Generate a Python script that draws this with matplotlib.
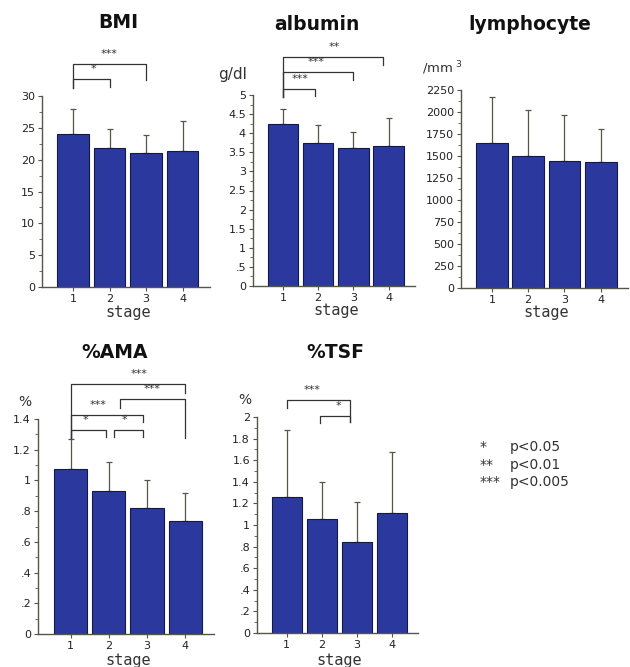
import matplotlib
matplotlib.use('Agg')
import matplotlib.pyplot as plt
import matplotlib.transforms as mtransforms
from matplotlib.ticker import FuncFormatter, MultipleLocator, AutoMinorLocator

# stages on the x axis
stages = [1, 2, 3, 4]

# mean values and upper SD for each panel
bmi_mean = [24.0, 21.8, 21.1, 21.4]
bmi_sd = [3.9, 3.0, 2.7, 4.7]
alb_mean = [4.24, 3.74, 3.60, 3.66]
alb_sd = [0.40, 0.47, 0.44, 0.73]
lym_mean = [1644, 1504, 1443, 1428]
lym_sd = [523, 519, 523, 382]
ama_mean = [1.075, 0.93, 0.82, 0.735]
ama_sd = [0.195, 0.19, 0.185, 0.185]
tsf_mean = [1.255, 1.055, 0.84, 1.11]
tsf_sd = [0.625, 0.345, 0.37, 0.57]

# significance brackets: (from, to, line height, left leg end, right leg end, stars, label x)
bmi_sig = [(1, 3, 1.168, 1.042, 1.084, '***', 2.0),
           (1, 2, 1.089, 1.042, 1.047, '*', 1.55)]
alb_sig = [(1, 3.85, 1.199, 0.99, 1.157, '**', 2.45),
           (1, 3, 1.120, 0.99, 1.079, '***', 1.95),
           (1, 1.9, 1.031, 0.99, 0.995, '***', 1.5)]
ama_sig = [(1, 4, 1.163, 0.912, 1.121, '***', 2.78),
           (2.3, 4, 1.093, 1.051, 0.912, '***', 3.12),
           (1, 2.9, 1.019, 0.912, 0.986, '***', 1.71),
           (1, 1.92, 0.949, 0.912, 0.916, '*', 1.4),
           (2.13, 2.9, 0.949, 0.916, 0.916, '*', 2.42)]
tsf_sig = [(1, 2.8, 1.079, 1.042, 0.977, '***', 1.73),
           (1.95, 2.8, 1.005, 0.972, 0.977, '*', 2.47)]

W, H = 630, 667
fig = plt.figure(figsize=(W / 100, H / 100), dpi=100)

bar_col = '#2b399f'
line_col = '#55554a'


def rect(l, t, w, h):
    return [l / W, 1 - (t + h) / H, w / W, h / H]


def fmt(v, pos):
    s = '%g' % round(v, 4)
    if s.startswith('0.'):
        s = s[1:]
    return s


def panel(r, means, sds, ymax, step, sig, stage_off):
    ax = fig.add_axes(rect(*r))
    ax.bar(stages, means, width=0.87, color=bar_col, edgecolor='#151a45', linewidth=0.8, zorder=2)
    ax.errorbar(stages, means, yerr=[[0] * 4, sds], fmt='none', ecolor=line_col,
                elinewidth=0.9, capsize=2, capthick=0.9, zorder=1)
    ax.set_xlim(0.15, 4.75)
    ax.set_ylim(0, ymax)
    ax.yaxis.set_major_locator(MultipleLocator(step))
    ax.yaxis.set_minor_locator(AutoMinorLocator(2))
    ax.yaxis.set_major_formatter(FuncFormatter(fmt))
    ax.set_xticks(stages)
    for s in ['top', 'right']:
        ax.spines[s].set_visible(False)
    for s in ['left', 'bottom']:
        ax.spines[s].set_color(line_col)
        ax.spines[s].set_linewidth(1.0)
    ax.tick_params(colors=line_col, width=0.8, length=3, labelcolor='#222222', labelsize=8, pad=2)
    ax.tick_params(which='minor', length=2, width=0.6, colors=line_col)
    ax.annotate('stage', xy=(2.5, 0), xycoords=('data', 'axes fraction'),
                xytext=(0, -stage_off * 0.72), textcoords='offset points',
                ha='center', va='center', fontsize=11, color='#333333',
                family=['DejaVu Sans Mono'])
    tr = mtransforms.blended_transform_factory(ax.transData, ax.transAxes)
    for x1, x2, y, l1, l2, lab, lx in sig:
        ax.plot([x1, x1, x2, x2], [l1, y, y, l2], color='#333333', lw=0.9,
                transform=tr, clip_on=False)
        ax.annotate(lab, xy=(lx, y), xycoords=tr, xytext=(0, 7), textcoords='offset points',
                    ha='center', va='center', fontsize=8, color='#333333')
    return ax


panel((42, 96, 168, 191), bmi_mean, bmi_sd, 30, 5, bmi_sig, 25)
panel((253, 95, 162, 191), alb_mean, alb_sd, 5, 0.5, alb_sig, 25)
panel((461, 90, 167, 198), lym_mean, lym_sd, 2250, 250, [], 25)
panel((38, 419, 176, 215), ama_mean, ama_sd, 1.4, 0.2, ama_sig, 27)
panel((257, 417, 161, 216), tsf_mean, tsf_sd, 2, 0.2, tsf_sig, 27)


def ftext(x, y, s, **kw):
    fig.text(x / W, 1 - y / H, s, ha='center', va='center', **kw)


# panel titles
for x, y, s in [(118, 22, 'BMI'), (317, 25, 'albumin'), (530, 25, 'lymphocyte'),
                (115, 352, '%AMA'), (335, 352, '%TSF')]:
    ftext(x, y, s, fontsize=13.5, fontweight='bold', color='#111111')

# units
ftext(233, 75, 'g/dl', fontsize=11, color='#333333')
ftext(442, 68, '/mm$^{\\ 3}$', fontsize=9.5, color='#333333')
ftext(25, 402, '%', fontsize=10, color='#333333')
ftext(245, 400, '%', fontsize=10, color='#333333')

# p-value key
for y, st, p in [(447, '*', 'p<0.05'), (465, '**', 'p<0.01'), (482, '***', 'p<0.005')]:
    fig.text(480 / W, 1 - y / H, st, ha='left', va='center', fontsize=10, color='#333333')
    fig.text(510 / W, 1 - y / H, p, ha='left', va='center', fontsize=10, color='#333333')

fig.savefig('out.png', dpi=100)
